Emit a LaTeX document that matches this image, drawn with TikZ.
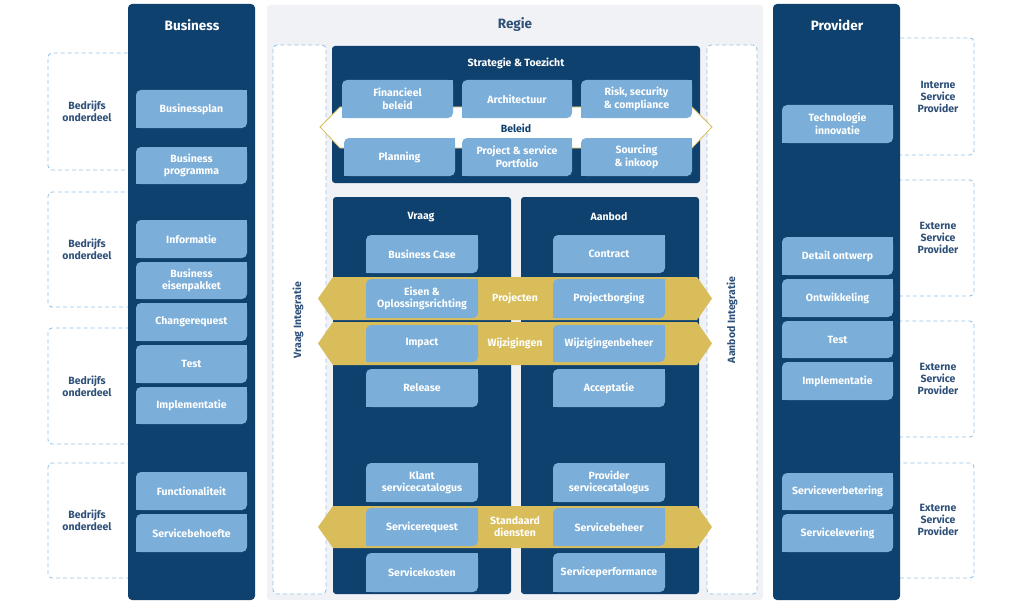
\documentclass[tikz,border=0pt]{standalone}
\usepackage{fontspec}
\setmainfont{Fira Sans}
\definecolor{navy}{HTML}{0F416E}
\definecolor{boxblue}{HTML}{7BAED8}
\definecolor{gold}{HTML}{D8BD5A}
\definecolor{regiebg}{HTML}{F1F2F5}
\definecolor{dashc}{HTML}{94C2E8}
\definecolor{labc}{HTML}{2E5079}
\newcommand\bx[6]{%
  \fill[boxblue,rounded corners=5pt] (#2,#3) rectangle (#4,#5);
  \fill[boxblue] ({#4-6},#3) rectangle (#4,{#3+6});
  \fill[boxblue] (#2,{#5-6}) rectangle ({#2+6},#5);
  \node[bxt] (#1) at ({(#2+#4)/2},{(#3+#5)/2}) {#6};}
\newcommand\goldband[2]{%
  \fill[gold] (318,{(#1+#2)/2}) -- (333,#1) -- (697,#1) -- (712,{(#1+#2)/2}) -- (697,#2) -- (333,#2) -- cycle;}
\begin{document}
\begin{tikzpicture}[x=1pt,y=-1pt,
  bxt/.style={font=\bfseries\fontsize{10.5}{12.5}\selectfont, text=white, align=center, inner sep=0pt},
  lbl/.style={font=\bfseries\fontsize{10.5}{12}\selectfont, text=labc, align=center, inner sep=0pt},
  ttl/.style={font=\bfseries\fontsize{13.5}{15}\selectfont, text=white, inner sep=0pt},
  sttl/.style={font=\bfseries\fontsize{10.5}{12}\selectfont, text=white, inner sep=0pt, align=center},
  dsh/.style={draw=dashc, line width=0.9pt, dash pattern=on 4pt off 3pt, rounded corners=4pt}]
\useasboundingbox (0,0) rectangle (1024,607);
\fill[white] (0,0) rectangle (1024,607);

% left dashed groups
\draw[dsh] (140,53) rectangle (48,170);
\draw[dsh] (140,192) rectangle (48,307);
\draw[dsh] (140,328) rectangle (48,444);
\draw[dsh] (140,463) rectangle (48,578);
\node[lbl] (g1) at (87,111) {Bedrijfs\\onderdeel};
\node[lbl] (g2) at (87,249) {Bedrijfs\\onderdeel};
\node[lbl] (g3) at (87,386) {Bedrijfs\\onderdeel};
\node[lbl] (g4) at (87,520) {Bedrijfs\\onderdeel};

% right dashed groups
\draw[dsh] (890,38) rectangle (974,155);
\draw[dsh] (890,180) rectangle (974,296);
\draw[dsh] (890,321) rectangle (974,437);
\draw[dsh] (890,463) rectangle (974,578);
\node[lbl] (p1) at (938,97) {Interne\\Service\\Provider};
\node[lbl] (p2) at (938,238) {Externe\\Service\\Provider};
\node[lbl] (p3) at (938,379) {Externe\\Service\\Provider};
\node[lbl] (p4) at (938,520) {Externe\\Service\\Provider};

% Business column
\fill[navy, rounded corners=4pt] (128,4) rectangle (255,600);
\node[ttl] (business) at (192,25) {Business};
\bx{bplan}{136}{90}{247}{128}{Businessplan}
\bx{bprog}{136}{147}{247}{184}{Business\\programma}
\bx{binfo}{136}{220}{247}{258}{Informatie}
\bx{beis}{136}{262}{247}{299}{Business\\eisenpakket}
\bx{bchg}{136}{303}{247}{341}{Changerequest}
\bx{btest}{136}{345}{247}{383}{Test}
\bx{bimpl}{136}{387}{247}{424}{Implementatie}
\bx{bfunc}{136}{472}{247}{510}{Functionaliteit}
\bx{bserv}{136}{514}{247}{552}{Servicebehoefte}

% Provider column
\fill[navy, rounded corners=4pt] (773,4) rectangle (900,600);
\node[ttl] (provider) at (837,25) {Provider};
\bx{ptech}{782}{105}{893}{143}{Technologie\\innovatie}
\bx{pdet}{782}{237}{893}{275}{Detail ontwerp}
\bx{pontw}{782}{279}{893}{317}{Ontwikkeling}
\bx{ptest}{782}{321}{893}{358}{Test}
\bx{pimpl}{782}{362}{893}{400}{Implementatie}
\bx{pverb}{782}{473}{893}{510}{Serviceverbetering}
\bx{plev}{782}{514}{893}{552}{Servicelevering}

% Regie
\fill[regiebg, rounded corners=3pt] (267,5) rectangle (763,600);
\node[ttl, text=labc] (regie) at (515,25) {Regie};
\filldraw[dsh, fill=white] (273,45) rectangle (326,594);
\filldraw[dsh, fill=white] (707,45) rectangle (757,594);
\node[lbl, rotate=90] (vint) at (298,320) {Vraag Integratie};
\node[lbl, rotate=90] (aint) at (732,320) {Aanbod Integratie};

% Strategie & Toezicht
\fill[navy, rounded corners=3pt] (332,46) rectangle (700,183);
\node[sttl] (strat) at (516,63) {Strategie \& Toezicht};
\filldraw[fill=white, draw=gold, line width=0.8pt] (320,127) -- (340,107) -- (692,107) -- (712,127) -- (692,148) -- (340,148) -- cycle;
\node[sttl, text=navy] (beleid) at (516,128) {Beleid};
\bx{fin}{342}{80}{453}{118}{Financieel\\beleid}
\bx{arch}{462}{80}{572}{118}{Architectuur}
\bx{risk}{581}{80}{692}{118}{Risk, security\\\& compliance}
\bx{plan}{344}{138}{455}{176}{Planning}
\bx{psp}{462}{138}{572}{176}{Project \& service\\Portfolio}
\bx{src}{581}{138}{692}{176}{Sourcing\\\& inkoop}

% Vraag / Aanbod
\fill[navy, rounded corners=3pt] (333,197) rectangle (511,594);
\fill[navy, rounded corners=3pt] (521,197) rectangle (699,594);
\node[sttl] (vraag) at (421,217) {Vraag};
\node[sttl] (aanbod) at (609,217) {Aanbod};

\goldband{277}{320}
\goldband{322}{365}
\goldband{506}{548}
\node[sttl] (proj) at (515,298) {Projecten};
\node[sttl] (wijz) at (515,343) {Wijzigingen};
\node[sttl] (std) at (515,527) {Standaard\\diensten};

\bx{vbc}{366}{235}{478}{273}{Business Case}
\bx{veis}{366}{279}{478}{318}{Eisen \&\\Oplossingsrichting}
\bx{vimp}{366}{325}{478}{362}{Impact}
\bx{vrel}{366}{369}{478}{407}{Release}
\bx{vkl}{366}{463}{478}{502}{Klant\\servicecatalogus}
\bx{vsr}{366}{508}{478}{546}{Servicerequest}
\bx{vsk}{366}{553}{478}{592}{Servicekosten}

\bx{acon}{553}{235}{665}{273}{Contract}
\bx{apb}{553}{279}{665}{318}{Projectborging}
\bx{awb}{553}{325}{665}{362}{Wijzigingenbeheer}
\bx{aacc}{553}{369}{665}{407}{Acceptatie}
\bx{apsc}{553}{463}{665}{502}{Provider\\servicecatalogus}
\bx{asb}{553}{508}{665}{546}{Servicebeheer}
\bx{asp}{553}{553}{665}{592}{Serviceperformance}
\end{tikzpicture}
\end{document}
